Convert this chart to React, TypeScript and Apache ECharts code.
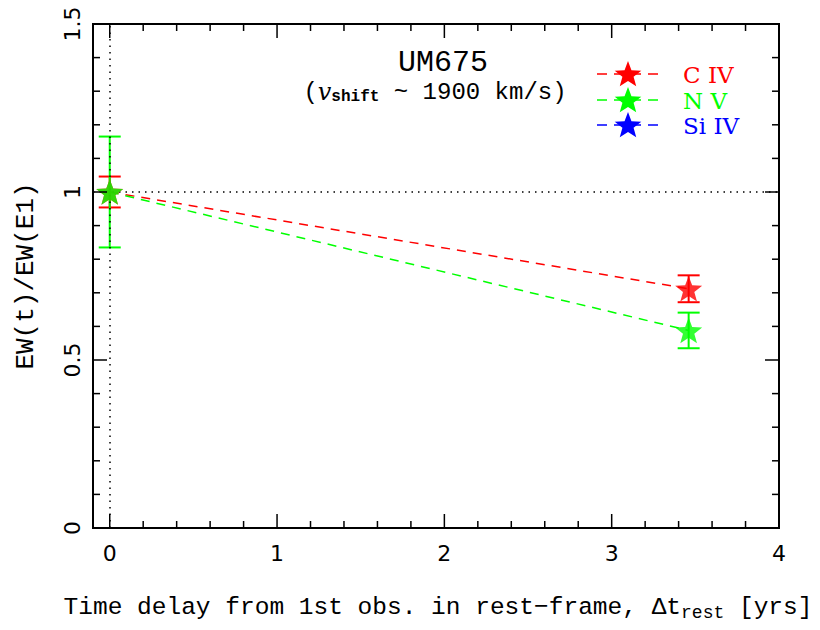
import React, { useEffect, useRef } from "react";
import * as echarts from "echarts";

// ---- data ----
const seriesNames = ["C IV", "N V", "Si IV"];
const seriesColors = ["#ff0000", "#00ff00", "#0000ff"];
const civX = [0, 3.46];
const civY = [1, 0.712];
const civErr = [0.046, 0.04];
const nvX = [0, 3.46];
const nvY = [1, 0.588];
const nvErr = [0.165, 0.053];
const xMajorTicks = [0, 1, 2, 3, 4];
const xMinorTicks = [0.2, 0.4, 0.6, 0.8, 1.2, 1.4, 1.6, 1.8, 2.2, 2.4, 2.6, 2.8, 3.2, 3.4, 3.6, 3.8];
const yMajorTicks = [0, 0.5, 1, 1.5];
const yMinorTicks = [0.1, 0.2, 0.3, 0.4, 0.6, 0.7, 0.8, 0.9, 1.1, 1.2, 1.3, 1.4];
const xRange = [-0.1, 4];
const yRange = [0, 1.5];
const refX = 0;
const refY = 1;
const titleText = "UM675";

// ---- helpers ----
function starPts(cx: number, cy: number, R: number, ratio = 0.42): number[][] {
  const pts: number[][] = [];
  for (let i = 0; i < 10; i++) {
    const a = -Math.PI / 2 + (i * Math.PI) / 5;
    const rr = i % 2 === 0 ? R : R * ratio;
    pts.push([cx + rr * Math.cos(a), cy + rr * Math.sin(a)]);
  }
  return pts;
}
const starSymbol =
  "path://" +
  starPts(0, 0, 10)
    .map((p, i) => (i === 0 ? "M" : "L") + p[0].toFixed(3) + " " + p[1].toFixed(3))
    .join(" ") +
  " Z";

const SERIF = "'DejaVu Serif', 'Liberation Serif', serif";
const MONO = "'Liberation Mono', 'DejaVu Sans Mono', monospace";
const SANS = "'DejaVu Sans', 'Liberation Sans', sans-serif";

function makeSeries(name: string, color: string, xs: number[], ys: number[], errs: number[]) {
  const pts = xs.map((x, i) => [x, ys[i]]);
  const errData = xs.map((x, i) => [x, ys[i], errs[i]]);
  return [
    {
      type: "line",
      name,
      data: pts,
      symbol: "none",
      lineStyle: { color, width: 1.5, type: [9, 7] },
      z: 3,
    },
    {
      type: "custom",
      name: name + "-err",
      data: errData,
      encode: { x: 0, y: 1 },
      z: 4,
      renderItem: (params: any, api: any) => {
        const x = api.value(0);
        const y = api.value(1);
        const e = api.value(2);
        const top = api.coord([x, y + e]);
        const bot = api.coord([x, y - e]);
        const hw = 11;
        const st = { stroke: color, lineWidth: 2 };
        return {
          type: "group",
          children: [
            { type: "line", shape: { x1: top[0], y1: top[1], x2: bot[0], y2: bot[1] }, style: st },
            { type: "line", shape: { x1: top[0] - hw, y1: top[1], x2: top[0] + hw, y2: top[1] }, style: st },
            { type: "line", shape: { x1: bot[0] - hw, y1: bot[1], x2: bot[0] + hw, y2: bot[1] }, style: st },
          ],
        };
      },
    },
    {
      type: "scatter",
      name: name + "-pt",
      data: pts,
      symbol: starSymbol,
      symbolSize: [27, 25.7],
      itemStyle: { color },
      z: 5,
    },
  ];
}

function legendGraphics() {
  const out: any[] = [];
  const x0 = 597;
  const x1 = 663;
  const sx = 628;
  const tx = 683;
  const ys = [74, 100, 125];
  seriesNames.forEach((n, i) => {
    const y = ys[i];
    const c = seriesColors[i];
    out.push({
      type: "line",
      shape: { x1: x0, y1: y, x2: x1, y2: y },
      style: { stroke: c, lineWidth: 1.5, lineDash: [10, 7] },
      z: 10,
    });
    out.push({
      type: "polygon",
      shape: { points: starPts(sx, y + 1, 14) },
      style: { fill: c },
      z: 11,
    });
    out.push({
      type: "text",
      x: tx,
      y: y + 1,
      style: {
        text: n,
        fill: c,
        font: `23px ${SERIF}`,
        lineHeight: 22,
        verticalAlign: "middle",
        align: "left",
      },
      z: 11,
    });
  });
  return out;
}

export default function App() {
  const ref = useRef<HTMLDivElement>(null);
  useEffect(() => {
    if (!ref.current) return;
    const chart = echarts.init(ref.current, null, { renderer: "svg" });
    const baseGraphics: any[] = [
      {
        type: "text",
        x: 443,
        y: 63,
        style: {
          text: titleText,
          font: `30px ${MONO}`,
          lineHeight: 26,
          fill: "#000",
          align: "center",
          verticalAlign: "middle",
        },
      },
      {
        type: "text",
        x: 435,
        y: 92,
        style: {
          text: "{n|(}{i|v}{s|shift}{n| ~ 1900 km/s)}",
          align: "center",
          verticalAlign: "middle",
          rich: {
            n: { font: `24px ${MONO}`, fill: "#000", lineHeight: 24 },
            i: { font: `italic 24px ${SERIF}`, fill: "#000", lineHeight: 24 },
            s: { font: `bold 16px ${MONO}`, fill: "#000", lineHeight: 16, padding: [10, 0, 0, 0] },
          },
        },
      },
      ...legendGraphics(),
    ];
    const option: any = {
      animation: false,
      backgroundColor: "#fff",
      grid: {
        left: 93,
        right: 41,
        top: 24,
        bottom: 102,
        show: true,
        borderColor: "#000",
        borderWidth: 2,
        backgroundColor: "transparent",
        containLabel: false,
        outerBoundsMode: "none",
      },
      xAxis: {
        type: "value",
        min: xRange[0],
        max: xRange[1],
        splitLine: { show: false },
        axisLine: { show: false, onZero: false },
        axisTick: { show: false },
        axisLabel: {
          show: true,
          customValues: xMajorTicks,
          color: "#000",
          fontSize: 22,
          fontFamily: SANS,
          margin: 14,
        },
        name: "{n|Time delay from 1st obs. in rest\u2212frame, \u0394t}{s|rest}{n| [yrs]}",
        nameLocation: "middle",
        nameGap: 64,
        nameTextStyle: {
          padding: [0, 0, 0, 4],
          rich: {
            n: { fontSize: 24.5, fontFamily: MONO, color: "#000" },
            s: { fontSize: 18, fontFamily: MONO, color: "#000", padding: [12, 0, 0, 0] },
          },
        },
      },
      yAxis: {
        type: "value",
        min: yRange[0],
        max: yRange[1],
        interval: 0.5,
        splitLine: { show: false },
        axisLine: { show: false, onZero: false },
        axisTick: { show: false },
        axisLabel: {
          show: true,
          rotate: 90,
          color: "#000",
          fontSize: 22,
          fontFamily: SANS,
          margin: 10,
        },
        name: "EW(t)/EW(E1)",
        nameLocation: "middle",
        nameRotate: 90,
        nameGap: 54,
        nameTextStyle: { fontSize: 26, fontFamily: MONO, color: "#000" },
      },
      graphic: baseGraphics,
      series: [
        {
          type: "line",
          name: "ref",
          data: [],
          markLine: {
            silent: true,
            symbol: "none",
            label: { show: false },
            lineStyle: { color: "#000", width: 1.5, type: [1.5, 5] },
            data: [{ xAxis: refX }, { yAxis: refY }],
          },
          z: 2,
        },
        ...makeSeries(seriesNames[0], seriesColors[0], civX, civY, civErr),
        ...makeSeries(seriesNames[1], seriesColors[1], nvX, nvY, nvErr),
      ],
    };
    chart.setOption(option);

    // tick marks on all four sides, positioned through the axis scales
    const toPx = (x: number, y: number) => chart.convertToPixel({ gridIndex: 0 }, [x, y]) as number[];
    const xl = toPx(xRange[0], yRange[0])[0];
    const xr = toPx(xRange[1], yRange[0])[0];
    const yb = toPx(xRange[0], yRange[0])[1];
    const yt = toPx(xRange[0], yRange[1])[1];
    const st = { stroke: "#000", lineWidth: 1.5 };
    const ticks: any[] = [];
    const addX = (vals: number[], len: number) =>
      vals.forEach((v) => {
        const px = toPx(v, yRange[0])[0];
        ticks.push({ type: "line", silent: true, z: 20, shape: { x1: px, y1: yb, x2: px, y2: yb - len }, style: st });
        ticks.push({ type: "line", silent: true, z: 20, shape: { x1: px, y1: yt, x2: px, y2: yt + len }, style: st });
      });
    const addY = (vals: number[], len: number) =>
      vals.forEach((v) => {
        const py = toPx(xRange[0], v)[1];
        ticks.push({ type: "line", silent: true, z: 20, shape: { x1: xl, y1: py, x2: xl + len, y2: py }, style: st });
        ticks.push({ type: "line", silent: true, z: 20, shape: { x1: xr, y1: py, x2: xr - len, y2: py }, style: st });
      });
    addX(xMajorTicks, 14);
    addX(xMinorTicks, 7);
    addY(yMajorTicks, 14);
    addY(yMinorTicks, 7);
    chart.setOption({ graphic: [...baseGraphics, ...ticks] });

    return () => chart.dispose();
  }, []);
  return (
    <div
      ref={ref}
      style={{ position: "absolute", left: 0, top: 0, width: 820, height: 630, background: "#fff" }}
    />
  );
}
